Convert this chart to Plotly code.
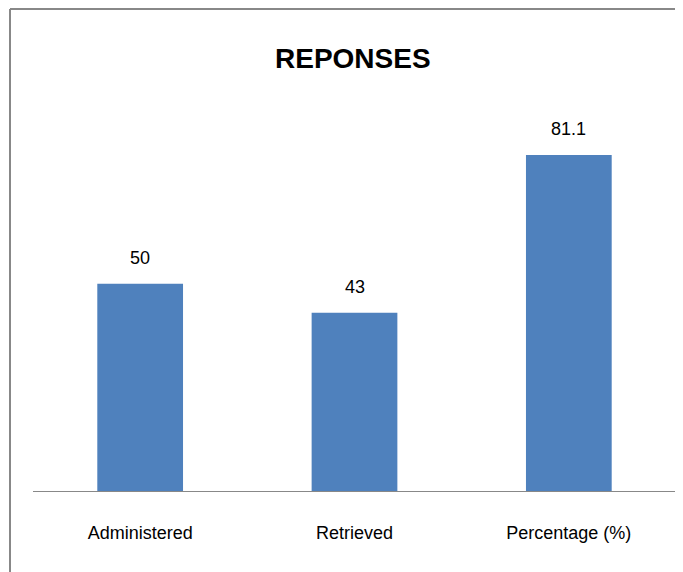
import plotly.graph_objects as go

categories = ["Administered", "Retrieved", "Percentage (%)"]
values = [50, 43, 81.1]
value_labels = ["50", "43", "81.1"]
title_text = "REPONSES"

FONT = "Liberation Sans Narrow, Arial Narrow, Liberation Sans, sans-serif"

fig = go.Figure()
fig.add_trace(go.Bar(
    x=categories, y=values,
    marker=dict(color="#4F81BD", line=dict(width=0)),
    width=0.4,
    hoverinfo="skip",
))

for c, v, t in zip(categories, values, value_labels):
    fig.add_annotation(x=c, y=v, text=t, showarrow=False, yshift=26,
                       font=dict(family=FONT, size=18, color="#000000"))

# page body has an 8px margin, so plot coordinates are offset by 8px
W, H = 675, 564
L, R, T, B = 25, 7, 110, 81
pw, ph = W - L - R, H - T - B

def px_x(x):  # screen x -> paper
    return (x - 8 - L) / pw

def px_y(y):  # screen y -> paper
    return (H - B - (y - 8)) / ph

fig.add_annotation(xref="paper", yref="paper", x=px_x(353), y=px_y(59), text=title_text,
                   showarrow=False, xanchor="center", yanchor="middle",
                   font=dict(family=FONT, size=28, color="#000000", weight="bold"))

# outer chart border (top and left visible)
fig.add_shape(type="line", xref="paper", yref="paper", x0=px_x(10), x1=px_x(720),
              y0=px_y(9), y1=px_y(9), line=dict(color="#888888", width=2))
fig.add_shape(type="line", xref="paper", yref="paper", x0=px_x(10), x1=px_x(10),
              y0=px_y(9), y1=px_y(620), line=dict(color="#888888", width=2))

fig.update_layout(
    width=W, height=H,
    margin=dict(l=L, r=R, t=T, b=B),
    paper_bgcolor="white", plot_bgcolor="white",
    showlegend=False,
    bargap=0.6,
    xaxis=dict(showline=True, linecolor="#888888", linewidth=1,
               ticks="", showgrid=False, zeroline=False,
               tickfont=dict(family=FONT, size=18, color="#000000"),
               ticklabelstandoff=25),
    yaxis=dict(range=[0, 90], visible=False, showgrid=False, zeroline=False),
)

fig.write_html("out.html")
